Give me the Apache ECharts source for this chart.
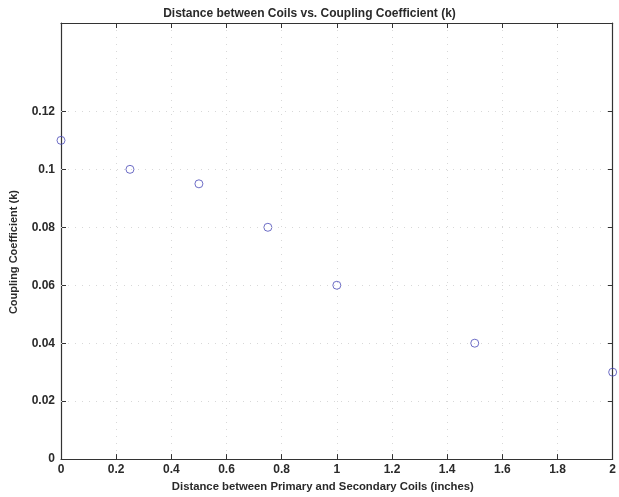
<!DOCTYPE html>
<html>
<head>
<meta charset="utf-8">
<script src="https://cdn.jsdelivr.net/npm/echarts@6/dist/echarts.min.js"></script>
<style>html,body{margin:0;padding:0;background:#fff;}#c{width:619px;height:497px;}</style>
</head>
<body>
<div id="c"></div>
<script>
const distances = [0, 0.25, 0.5, 0.75, 1.0, 1.5, 2.0];
const coupling = [0.11, 0.10, 0.095, 0.08, 0.06, 0.04, 0.03];
const yTicks = [0, 0.02, 0.04, 0.06, 0.08, 0.1, 0.12];
const xTicks = [0, 0.2, 0.4, 0.6, 0.8, 1, 1.2, 1.4, 1.6, 1.8, 2];
const titleText = 'Distance between Coils vs. Coupling Coefficient (k)';
const xName = 'Distance between Primary and Secondary Coils (inches)';
const yName = 'Coupling Coefficient (k)';

const FONT = '"Liberation Sans", Arial, Helvetica, sans-serif';
const axisLine = { show: true, onZero: false, lineStyle: { color: '#333', width: 1.2 } };
const grid = { show: true, lineStyle: { color: '#d8d8d8', type: [1, 6], width: 1 } };
const tick = { show: true, inside: true, length: 5, lineStyle: { color: '#333' } };

const chart = echarts.init(document.getElementById('c'), null, { renderer: 'canvas' });
chart.setOption({
  animation: false,
  backgroundColor: '#fff',
  title: {
    text: titleText, left: 'center', top: 3,
    textStyle: { fontFamily: FONT, fontSize: 12, fontWeight: 'bold', color: '#2a2a2a' }
  },
  grid: { left: 60, right: 3, top: 23, bottom: 36 },
  xAxis: [
    {
      type: 'value', min: 0, max: 2, interval: 0.2, position: 'bottom',
      name: xName, nameLocation: 'middle', nameGap: 20,
      nameTextStyle: { fontFamily: FONT, fontSize: 11.3, fontWeight: 'bold', color: '#2a2a2a',
        padding: [0, 28, 0, 0] },
      axisLine: axisLine,
      axisTick: Object.assign({ customValues: xTicks }, tick),
      axisLabel: { fontFamily: FONT, fontSize: 12, fontWeight: 'bold', color: '#2a2a2a', margin: 5,
        customValues: xTicks },
      splitLine: grid
    },
    {
      type: 'value', min: 0, max: 2, interval: 0.2, position: 'top',
      axisLine: axisLine,
      axisTick: Object.assign({ customValues: xTicks }, tick),
      axisLabel: { show: false },
      splitLine: { show: false }
    }
  ],
  yAxis: [
    {
      type: 'value', min: 0, max: 0.1505, position: 'left',
      name: yName, nameLocation: 'middle', nameGap: 42, nameRotate: 90,
      nameTextStyle: { fontFamily: FONT, fontSize: 11, fontWeight: 'bold', color: '#2a2a2a',
        padding: [0, 0, 0, -22] },
      axisLine: axisLine,
      axisTick: Object.assign({ customValues: yTicks }, tick),
      axisLabel: { fontFamily: FONT, fontSize: 12, fontWeight: 'bold', color: '#2a2a2a', margin: 6,
        customValues: yTicks },
      splitLine: { show: false }
    },
    {
      type: 'value', min: 0, max: 0.1505, position: 'right',
      axisLine: axisLine,
      axisTick: Object.assign({ customValues: yTicks }, tick),
      axisLabel: { show: false },
      splitLine: { show: false }
    }
  ],
  series: [
    {
      type: 'scatter',
      xAxisIndex: 0, yAxisIndex: 0,
      data: distances.map((d, i) => [d, coupling[i]]),
      symbol: 'circle', symbolSize: 8,
      itemStyle: { color: 'rgba(0,0,0,0)', borderColor: '#4a4ab8', borderWidth: 1 },
      clip: false
    },
    {
      type: 'line', xAxisIndex: 0, yAxisIndex: 0, data: [], silent: true,
      markLine: {
        silent: true, symbol: 'none', label: { show: false },
        lineStyle: { color: '#d8d8d8', type: [1, 6], width: 1 },
        data: yTicks.slice(1).map(v => ({ yAxis: v }))
      }
    }
  ]
});
</script>
</body>
</html>
